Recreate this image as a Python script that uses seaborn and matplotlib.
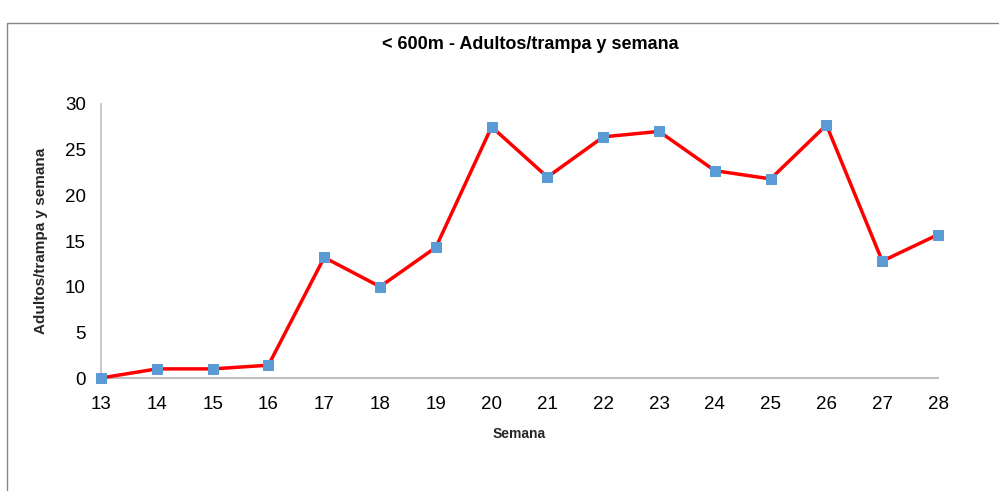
import pandas as pd
import seaborn as sns
import matplotlib.pyplot as plt

# Data
semanas = [13, 14, 15, 16, 17, 18, 19, 20, 21, 22, 23, 24, 25, 26, 27, 28]
adultos = [0.0, 1.0, 1.0, 1.4, 13.2, 10.0, 14.3, 27.5, 22.0, 26.4, 27.0, 22.7, 21.8, 27.7, 12.8, 15.7]
y_ticks = [0, 5, 10, 15, 20, 25, 30]

df = pd.DataFrame({"Semana": semanas, "Adultos": adultos})

sns.set_style("white")
plt.rcParams["font.family"] = ["Liberation Sans", "DejaVu Sans"]

fig = plt.figure(figsize=(9.99, 4.91), dpi=100)
ax = fig.add_axes([0.1011, 0.2301, 0.8379, 0.5581])

sns.lineplot(data=df, x="Semana", y="Adultos", ax=ax, color="#FF0000", linewidth=2.5,
             marker="s", markersize=7.5, markerfacecolor="#5B9BD5", markeredgecolor="#5B9BD5",
             clip_on=False, zorder=3)

ax.set_xlim(13, 28)
ax.set_ylim(0, 30)
ax.set_xticks(semanas)
ax.set_yticks(y_ticks)
ax.tick_params(axis="both", labelsize=13.5, colors="#000000")
ax.tick_params(axis="x", direction="out", length=8, width=1, color="#868686", pad=5)
ax.tick_params(axis="y", direction="out", length=6, width=1, color="#868686", pad=5)
for lbl in ax.get_xticklabels() + ax.get_yticklabels():
    lbl.set_color("#000000")

for side in ["top", "right"]:
    ax.spines[side].set_visible(False)
ax.spines["left"].set_color("#BFBFBF")
ax.spines["bottom"].set_color("#BFBFBF")
ax.spines["left"].set_linewidth(1.2)
ax.spines["bottom"].set_linewidth(1.5)

ax.set_xlabel("Semana", fontsize=10, fontweight="bold", labelpad=10)
ax.set_ylabel("Adultos/trampa y semana", fontsize=11, fontweight="bold", labelpad=12)

fig.text(0.531, 0.91, "< 600m - Adultos/trampa y semana", ha="center", va="center",
         fontsize=13, fontweight="semibold", color="#000000")

# Chart-area border as in the original
border = plt.Rectangle((0.0075, -0.05), 1.1, 1.003, transform=fig.transFigure, fill=False,
                       edgecolor="#868686", linewidth=1)
fig.add_artist(border)

fig.savefig("out.png", dpi=100)
